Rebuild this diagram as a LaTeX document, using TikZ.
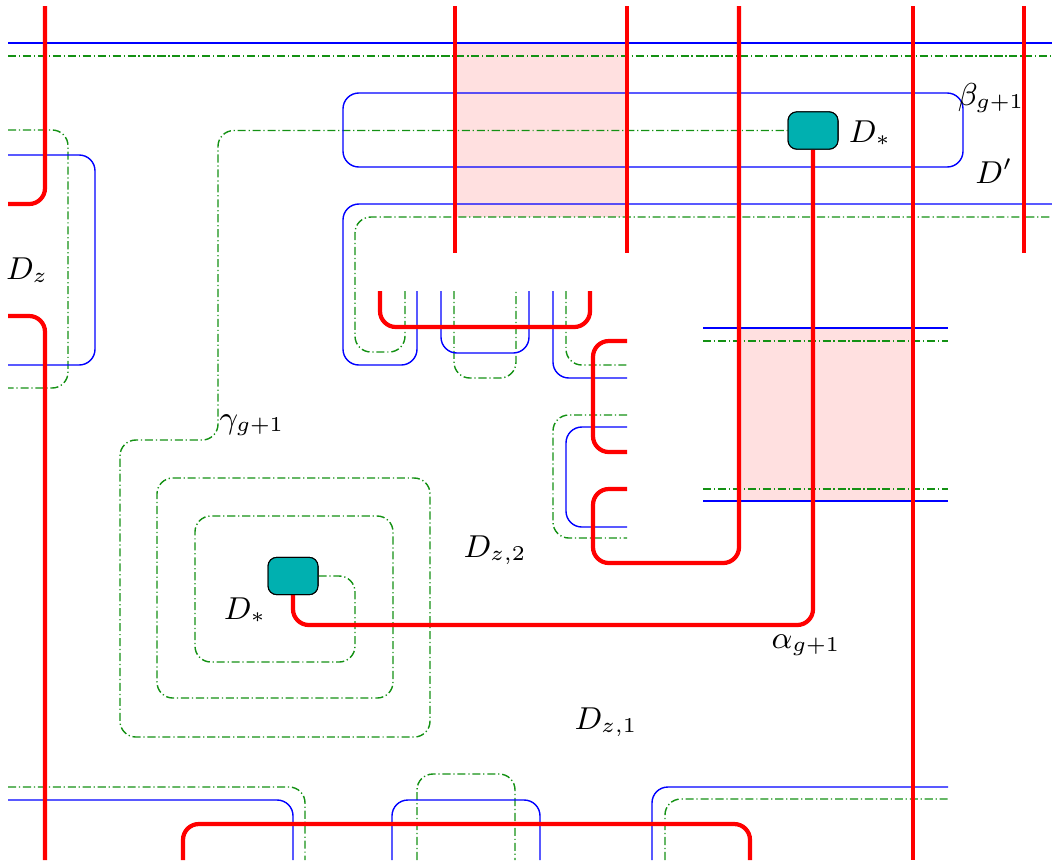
\documentclass[tikz,border=0pt]{standalone}
\usepackage{tikz}

\definecolor{diskteal}{RGB}{0,176,176}
\definecolor{shadepink}{RGB}{255,224,224}
\definecolor{curvegreen}{RGB}{20,145,20}

\begin{document}
\begin{tikzpicture}[x={(0.01cm,0)}, y={(0,-0.01cm)},
    every node/.style={font=\fontsize{8.8}{10}\selectfont},
    redcurve/.style={red, line width=1.2pt, rounded corners=4.5pt},
    bluecurve/.style={blue, line width=0.4pt, rounded corners=4.5pt},
    greencurve/.style={curvegreen, line width=0.4pt, rounded corners=4.5pt,
      dash pattern=on 2.3pt off 0.8pt on 0.35pt off 0.8pt},
    diskbox/.style={draw=black, fill=diskteal, line width=0.3pt,
      rounded corners=2.5pt, minimum width=14.2pt, minimum height=10.6pt, inner sep=0pt}]
    \useasboundingbox (0,0) rectangle (1052,863);

    % Shaded squares
    \fill [shadepink] (455,43) rectangle (627,217);
    \fill [shadepink] (739,328) rectangle (913,501);

    % Disks D_*
    \node [diskbox] (Dtop) at (813,130.5) {};
    \node [diskbox] (Dbot) at (293,576) {};

    % Green (dash-dot) curves
    \draw [greencurve] (8,56) -- (1052,56);
    \draw [greencurve] (405,291) -- (405,352) -- (355,352) -- (355,217) -- (1052,217);
    \draw [greencurve] (454,291) -- (454,378) -- (516,378) -- (516,291);
    \draw [greencurve] (566,291) -- (566,365) -- (627,365);
    \draw [greencurve] (627,415) -- (553,415) -- (553,538) -- (627,538);
    \draw [greencurve] (703,341) -- (948,341);
    \draw [greencurve] (703,489) -- (948,489);
    \draw [greencurve] (8,130) -- (68,130) -- (68,388) -- (8,388);
    \draw [greencurve] (8,787) -- (305,787) -- (305,860);
    \draw [greencurve] (417,860) -- (417,774) -- (515,774) -- (515,860);
    \draw [greencurve] (665,860) -- (665,799) -- (948,799);

    % gamma_{g+1}: spiral round the lower disk
    \draw [greencurve] (Dbot.east) -- (355,576) -- (355,662) -- (195,662)
      -- (195,516) -- (393,516) -- (393,698) -- (157,698) -- (157,478)
      -- (430,478) -- (430,737) -- (120,737) -- (120,440) -- (218,440)
      -- (218,130.5) -- (Dtop.west);

    % Blue curves
    \draw [bluecurve] (8,43) -- (1052,43);
    \draw [bluecurve] (343,93) rectangle (963,167);
    \draw [bluecurve] (417,291) -- (417,365) -- (343,365) -- (343,204) -- (1052,204);
    \draw [bluecurve] (441,291) -- (441,353) -- (529,353) -- (529,291);
    \draw [bluecurve] (553,291) -- (553,378) -- (627,378);
    \draw [bluecurve] (627,427) -- (566,427) -- (566,527) -- (627,527);
    \draw [bluecurve] (703,328) -- (948,328);
    \draw [bluecurve] (703,501) -- (948,501);
    \draw [bluecurve] (8,155) -- (95,155) -- (95,365) -- (8,365);
    \draw [bluecurve] (8,800) -- (293,800) -- (293,860);
    \draw [bluecurve] (392,860) -- (392,800) -- (540,800) -- (540,860);
    \draw [bluecurve] (652,860) -- (652,787) -- (948,787);

    % Red curves
    \foreach \x in {455, 627, 1024} {
      \draw [redcurve] (\x,6) -- (\x,253);
    }
    \draw [redcurve] (913,6) -- (913,860);
    \draw [redcurve] (45,6) -- (45,204) -- (8,204);
    \draw [redcurve] (8,316) -- (45,316) -- (45,860);
    \draw [redcurve] (739,6) -- (739,563) -- (593,563) -- (593,489) -- (627,489);
    \draw [redcurve] (627,341) -- (593,341) -- (593,452) -- (627,452);
    \draw [redcurve] (380,291) -- (380,327) -- (590,327) -- (590,291);
    \draw [redcurve] (183,860) -- (183,824) -- (750,824) -- (750,860);

    % alpha_{g+1}: joins the two disks
    \draw [redcurve] (Dtop.south) -- (813,625) -- (293,625) -- (Dbot.south);

    % Disks again, on top
    \node [diskbox] at (Dtop) {};
    \node [diskbox] at (Dbot) {};

    % Labels
    \node (Dz) at (27,270) {$D_z$};
    \node (beta) at (991,98) {$\beta_{g+1}$};
    \node (Dprime) at (994,171) {$D'$};
    \node (Dstartop) at (870,133) {$D_*$};
    \node (gamma) at (252,425) {$\gamma_{g+1}$};
    \node (Dz2) at (495,550) {$D_{z,2}$};
    \node (Dstarbot) at (245,610) {$D_*$};
    \node (alpha) at (806,645) {$\alpha_{g+1}$};
    \node (Dz1) at (606,722) {$D_{z,1}$};
\end{tikzpicture}
\end{document}
